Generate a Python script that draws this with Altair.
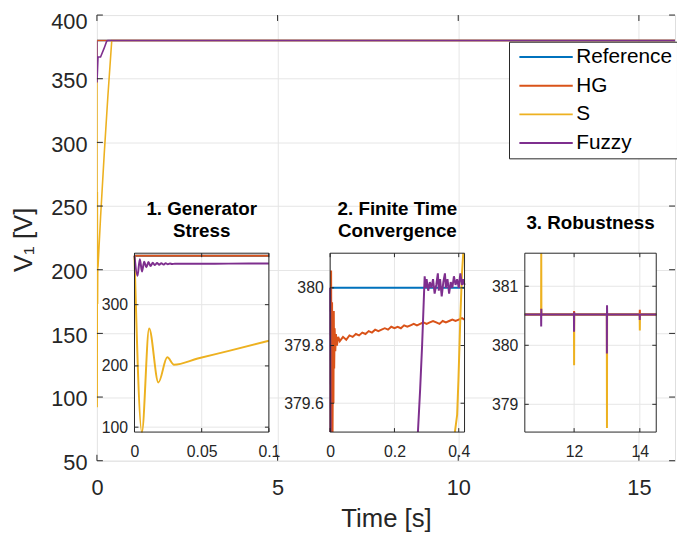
import altair as alt
import pandas as pd

# ---------------- data ----------------
NAMES = ["Reference", "HG", "S", "Fuzzy"]
COLORS = ["#0072BD", "#D95319", "#EDB120", "#7E2F8E"]

# main axes
MAIN_X_DOMAIN = [0, 16]
MAIN_Y_DOMAIN = [50, 400]
MAIN_X_TICKS = [0, 5, 10, 15]
MAIN_Y_TICKS = [50, 100, 150, 200, 250, 300, 350, 400]

MAIN_REF_T = [0, 16]
MAIN_REF_V = [380, 380]
MAIN_HG_T = [0, 16]
MAIN_HG_V = [380, 380]
MAIN_S_T = [0, 0.0055, 0.0109, 0.0178, 0.0244, 0.0294, 0.1, 0.2, 0.3, 0.41, 16]
MAIN_S_V = [380, 92, 261, 173, 214, 202, 241, 290, 335, 380, 380]
MAIN_FZ_T = [0, 0.0022, 0.03, 0.1, 0.2, 0.27, 0.3, 16]
MAIN_FZ_V = [380, 347, 367, 367, 374, 379.5, 380, 380]

# inset 1 : Generator stress
IN1_TITLE = "1. Generator\nStress"
IN1_X_DOMAIN = [0, 0.1]
IN1_Y_DOMAIN = [92, 384]
IN1_X_TICKS = [0, 0.05, 0.1]
IN1_Y_TICKS = [100, 200, 300]
IN1_REF_T = [0, 0.1]
IN1_REF_V = [380, 380]
IN1_HG_T = [0, 0.1]
IN1_HG_V = [379.85, 379.85]
IN1_S_T = [0, 0.0055, 0.0109, 0.0178, 0.0244, 0.0294, 0.047, 0.071, 0.1]
IN1_S_V = [380, 92, 261, 173, 214, 202, 212, 225, 241]
IN1_FZ_T = [0, 0.0022, 0.0040, 0.0056, 0.0072, 0.0088, 0.0104, 0.0120, 0.0136,
            0.0152, 0.0168, 0.0184, 0.0200, 0.0216, 0.0232, 0.0248, 0.0264,
            0.0280, 0.0300, 0.035, 0.05, 0.07, 0.1]
IN1_FZ_V = [380, 347, 374, 354, 370, 361, 369.5, 363, 368.4, 364.6, 368, 365,
            367.8, 365.5, 367.5, 366, 367.2, 366.3, 366.9, 366.7, 366.8, 367, 367.3]

# inset 2 : finite time convergence
IN2_TITLE = "2. Finite Time\nConvergence"
IN2_X_DOMAIN = [0, 0.418]
IN2_Y_DOMAIN = [379.5, 380.12]
IN2_X_TICKS = [0, 0.2, 0.4]
IN2_Y_TICKS = [379.6, 379.8, 380]
IN2_REF_T = [0, 0.418]
IN2_REF_V = [380, 380]
IN2_HG_T = [0.0015, 0.003, 0.0045, 0.006, 0.0075, 0.0092, 0.0103, 0.0113, 0.0125,
            0.014, 0.016, 0.018, 0.021, 0.025, 0.03, 0.04, 0.05, 0.06, 0.07, 0.08,
            0.09, 0.10, 0.11, 0.12, 0.13, 0.14, 0.15, 0.16, 0.17, 0.18, 0.19, 0.20,
            0.21, 0.22, 0.23, 0.24, 0.25, 0.26, 0.27, 0.28, 0.29, 0.30, 0.31, 0.32,
            0.33, 0.34, 0.35, 0.36, 0.37, 0.38, 0.39, 0.40, 0.41, 0.418]
IN2_HG_V = [379.5, 380.06, 379.5, 379.95, 379.5, 379.9, 379.6, 379.92, 379.72,
            379.86, 379.78, 379.84, 379.8, 379.83, 379.815, 379.83, 379.82, 379.835,
            379.83, 379.84, 379.835, 379.845, 379.84, 379.85, 379.845, 379.855,
            379.85, 379.855, 379.86, 379.855, 379.865, 379.86, 379.865, 379.86,
            379.87, 379.865, 379.87, 379.875, 379.87, 379.875, 379.88, 379.875,
            379.88, 379.885, 379.88, 379.875, 379.885, 379.88, 379.885, 379.89,
            379.885, 379.89, 379.895, 379.89]
IN2_S_T = [0.388, 0.395, 0.399, 0.405, 0.41, 0.414]
IN2_S_V = [379.5, 379.56, 379.68, 379.9, 380.05, 380.12]
IN2_FZ_A_T = [0, 0.0012]
IN2_FZ_A_V = [380, 379.5]
IN2_FZ_B_T = [0.273, 0.28, 0.286, 0.291, 0.294, 0.297, 0.30, 0.305, 0.31, 0.315,
              0.32, 0.325, 0.33, 0.335, 0.338, 0.342, 0.347, 0.352, 0.357, 0.36,
              0.365, 0.37, 0.375, 0.38, 0.385, 0.39, 0.395, 0.40, 0.405, 0.41,
              0.414, 0.418]
IN2_FZ_B_V = [379.5, 379.65, 379.8, 379.95, 380.04, 380.0, 380.03, 379.99, 380.02,
              380.0, 380.03, 379.98, 380.01, 380.05, 379.99, 380.03, 379.97, 380.02,
              380.05, 380.0, 380.03, 379.98, 380.02, 380.0, 380.04, 380.01, 380.03,
              380.0, 380.05, 380.01, 380.03, 380.01]

# inset 3 : robustness
IN3_TITLE = "3. Robustness"
IN3_X_DOMAIN = [10.5, 14.5]
IN3_Y_DOMAIN = [378.53, 381.56]
IN3_X_TICKS = [12, 14]
IN3_Y_TICKS = [379, 380, 381]
IN3_REF_T = [10.5, 14.5]
IN3_REF_V = [380.52, 380.52]
IN3_HG_T = [10.5, 11.995, 12.0, 12.005, 13.995, 14.0, 14.005, 14.5]
IN3_HG_V = [380.52, 380.52, 380.58, 380.52, 380.52, 380.6, 380.52, 380.52]
IN3_S_T = [10.5, 10.995, 11.0, 11.005, 11.995, 12.0, 12.005, 12.995, 13.0, 13.005,
           13.995, 14.0, 14.005, 14.5]
IN3_S_V = [380.52, 380.52, 381.56, 380.52, 380.52, 379.66, 380.52, 380.52, 378.6,
           380.52, 380.52, 380.25, 380.52, 380.52]
IN3_FZ_T = [10.5, 10.995, 10.998, 11.002, 11.006, 11.995, 11.998, 12.002, 12.006,
            12.995, 12.998, 13.002, 13.006, 13.995, 13.998, 14.002, 14.5]
IN3_FZ_V = [380.52, 380.52, 380.32, 380.62, 380.52, 380.52, 380.23, 380.56, 380.52,
            380.52, 379.86, 380.68, 380.52, 380.52, 380.43, 380.52, 380.52]

# ---------------- layout / style ----------------
W, H = 585, 451
IN_BOTTOM, IN_TOP = 422, 241
IN1_RANGE = [38, 174]
IN2_RANGE = [236, 372]
IN3_RANGE = [433, 566]
AX = "#262626"
GRID = "#e6e6e6"
FONT = "Liberation Sans"


def series_df(parts):
    rows = []
    for name, seg, ts, vs in parts:
        for t, v in zip(ts, vs):
            rows.append({"t": t, "v": v, "series": name, "seg": f"{name}-{seg}"})
    return pd.DataFrame(rows)


def tick_layers(xdom, ydom, xrng, yrng, xticks, yticks, L):
    """Inward MATLAB-style ticks on all four sides of a box."""
    def xs():
        return alt.Scale(domain=xdom, range=xrng, nice=False, zero=False)

    def ys():
        return alt.Scale(domain=ydom, range=yrng, nice=False, zero=False)

    xt = pd.DataFrame({"g": xticks})
    yt = pd.DataFrame({"g": yticks})
    out = []
    for y0, y1 in [(yrng[0] - L, yrng[0]), (yrng[1], yrng[1] + L)]:
        out.append(alt.Chart(xt).mark_rule(color=AX, strokeWidth=1).encode(
            x=alt.X("g:Q", scale=xs(), axis=None),
            y=alt.value(y0), y2=alt.value(y1)))
    for x0, x1 in [(xrng[0], xrng[0] + L), (xrng[1] - L, xrng[1])]:
        out.append(alt.Chart(yt).mark_rule(color=AX, strokeWidth=1).encode(
            y=alt.Y("g:Q", scale=ys(), axis=None),
            x=alt.value(x0), x2=alt.value(x1)))
    return out


color_scale = alt.Scale(domain=NAMES, range=COLORS)
legend = alt.Legend(
    title=None, orient="none", legendX=417, legendY=27,
    symbolType="M-1,0H9.8", symbolSize=100, symbolStrokeWidth=2,
    symbolOffset=0, labelOffset=42, labelFontSize=21, labelColor="#000000",
    rowPadding=7, padding=5, fillColor="white", strokeColor=AX, cornerRadius=0,
)

# ---------------- main panel ----------------
main_df = series_df([
    ("Reference", 0, MAIN_REF_T, MAIN_REF_V),
    ("HG", 0, MAIN_HG_T, MAIN_HG_V),
    ("S", 0, MAIN_S_T, MAIN_S_V),
    ("Fuzzy", 0, MAIN_FZ_T, MAIN_FZ_V),
])

main = alt.Chart(main_df).mark_line(strokeWidth=1.6, clip=True).encode(
    x=alt.X("t:Q", scale=alt.Scale(domain=MAIN_X_DOMAIN, range=[0, W], nice=False, zero=False),
            axis=alt.Axis(orient="bottom", values=MAIN_X_TICKS, title="Time [s]",
                          grid=True, gridColor=GRID, domain=False, ticks=False,
                          labelFontSize=22, labelPadding=17, labelFlush=False,
                          labelOverlap=False, labelColor=AX, titleFontSize=26,
                          titleFontWeight="normal", titleColor=AX, titleY=67,
                          titleBaseline="alphabetic")),
    y=alt.Y("v:Q", scale=alt.Scale(domain=MAIN_Y_DOMAIN, range=[H, 0], nice=False, zero=False),
            axis=alt.Axis(orient="left", values=MAIN_Y_TICKS, title="V₁ [V]",
                          grid=True, gridColor=GRID, domain=False, ticks=False,
                          labelFontSize=22, labelPadding=10,
                          labelOffset={"condition": {"test": "datum.value >= 400", "value": 7},
                                       "value": 2},
                          labelOverlap=False, labelFlush=False, labelColor=AX,
                          titleFontSize=26, titleFontWeight="normal", titleColor=AX,
                          titleX=-66, titleY=227, titleAngle=270,
                          titleBaseline="alphabetic", titleAlign="center")),
    color=alt.Color("series:N", scale=color_scale, sort=NAMES, legend=legend),
    detail="seg:N",
)


def make_inset(xdom, ydom, xrng, xticks, yticks, df, title, title_y, interp):
    """Return a flat list of layers for one inset (all with identical explicit scales)."""
    def xs():
        return alt.Scale(domain=xdom, range=xrng, nice=False, zero=False)

    def ys():
        return alt.Scale(domain=ydom, range=[IN_BOTTOM, IN_TOP], nice=False, zero=False)

    xa = alt.Axis(orient="bottom", offset=-(H - IN_BOTTOM), values=xticks,
                  format=".6~r", title=None, grid=False, domain=False, ticks=False,
                  labelFontSize=16, labelPadding=12, labelFlush=False,
                  labelOverlap=False, labelColor=AX)
    ya = alt.Axis(orient="left", offset=-xrng[0], values=yticks, format=".6~r",
                  title=None, grid=False, domain=False, ticks=False,
                  labelFontSize=16, labelPadding=7, labelFlush=False,
                  labelOverlap=False, labelColor=AX)
    box = pd.DataFrame({"x0": [xdom[0]], "x1": [xdom[1]],
                        "y0": [ydom[0]], "y1": [ydom[1]]})
    bg = alt.Chart(box).mark_rect(fill="white").encode(
        x=alt.X("x0:Q", scale=xs(), axis=None), x2="x1",
        y=alt.Y("y0:Q", scale=ys(), axis=None), y2="y1")
    gx = pd.DataFrame({"g": xticks, "y0": ydom[0], "y1": ydom[1]})
    gridx = alt.Chart(gx).mark_rule(color=GRID, strokeWidth=1).encode(
        x=alt.X("g:Q", scale=xs(), axis=xa),
        y=alt.Y("y0:Q", scale=ys(), axis=None), y2="y1")
    gy = pd.DataFrame({"g": yticks, "x0": xdom[0], "x1": xdom[1]})
    gridy = alt.Chart(gy).mark_rule(color=GRID, strokeWidth=1).encode(
        y=alt.Y("g:Q", scale=ys(), axis=ya),
        x=alt.X("x0:Q", scale=xs(), axis=None), x2="x1")
    lines = alt.Chart(df).mark_line(strokeWidth=2, interpolate=interp).encode(
        x=alt.X("t:Q", scale=xs(), axis=None),
        y=alt.Y("v:Q", scale=ys(), axis=None),
        color=alt.Color("series:N", scale=color_scale, sort=NAMES, legend=None),
        detail="seg:N")
    frame = alt.Chart(box).mark_rect(fillOpacity=0, stroke=AX, strokeWidth=1).encode(
        x=alt.X("x0:Q", scale=xs(), axis=None), x2="x1",
        y=alt.Y("y0:Q", scale=ys(), axis=None), y2="y1")
    tdf = pd.DataFrame({"title": [title], "xc": [(xdom[0] + xdom[1]) / 2]})
    ttl = alt.Chart(tdf).mark_text(
        lineBreak="\n", lineHeight=22, fontWeight="bold", fontSize=19,
        align="center", baseline="alphabetic", color="#000000").encode(
        x=alt.X("xc:Q", scale=xs(), axis=None), y=alt.value(title_y), text="title:N")
    ticks = tick_layers(xdom, ydom, xrng, [IN_BOTTOM, IN_TOP], xticks, yticks, 4)
    return [bg, gridx, gridy, lines] + ticks + [frame, ttl]


in1_df = series_df([
    ("Reference", 0, IN1_REF_T, IN1_REF_V),
    ("HG", 0, IN1_HG_T, IN1_HG_V),
    ("S", 0, IN1_S_T, IN1_S_V),
    ("Fuzzy", 0, IN1_FZ_T, IN1_FZ_V),
])
in2_df = series_df([
    ("Reference", 0, IN2_REF_T, IN2_REF_V),
    ("HG", 0, IN2_HG_T, IN2_HG_V),
    ("S", 0, IN2_S_T, IN2_S_V),
    ("Fuzzy", 0, IN2_FZ_A_T, IN2_FZ_A_V),
    ("Fuzzy", 1, IN2_FZ_B_T, IN2_FZ_B_V),
])
in3_df = series_df([
    ("Reference", 0, IN3_REF_T, IN3_REF_V),
    ("HG", 0, IN3_HG_T, IN3_HG_V),
    ("S", 0, IN3_S_T, IN3_S_V),
    ("Fuzzy", 0, IN3_FZ_T, IN3_FZ_V),
])

layers = [main]
layers += tick_layers(MAIN_X_DOMAIN, MAIN_Y_DOMAIN, [0, W], [H, 0],
                      MAIN_X_TICKS, MAIN_Y_TICKS, 6)
layers += make_inset(IN1_X_DOMAIN, IN1_Y_DOMAIN, IN1_RANGE, IN1_X_TICKS, IN1_Y_TICKS,
                     in1_df, IN1_TITLE, 202.7, "monotone")
layers += make_inset(IN2_X_DOMAIN, IN2_Y_DOMAIN, IN2_RANGE, IN2_X_TICKS, IN2_Y_TICKS,
                     in2_df, IN2_TITLE, 202.7, "linear")
layers += make_inset(IN3_X_DOMAIN, IN3_Y_DOMAIN, IN3_RANGE, IN3_X_TICKS, IN3_Y_TICKS,
                     in3_df, IN3_TITLE, 216.7, "linear")

chart = alt.layer(*layers).resolve_scale(
    x="independent", y="independent"
).properties(
    width=W, height=H,
    autosize=alt.AutoSizeParams(type="none"),
    padding={"left": 90, "top": 4, "right": 2, "bottom": 70},
).configure_view(
    stroke=AX, strokeWidth=1
).configure(
    font=FONT, background="white"
)

chart.save("out.html", embed_options={"renderer": "svg", "actions": False})
